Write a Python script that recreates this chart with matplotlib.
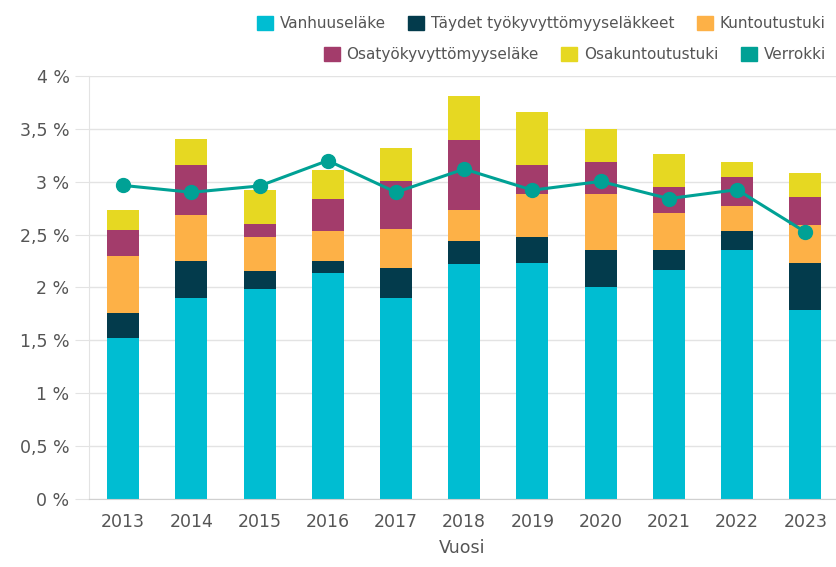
import matplotlib
matplotlib.use("Agg")
import matplotlib.pyplot as plt
import numpy as np
from matplotlib.patches import Patch
from matplotlib.ticker import FuncFormatter

years = ["2013", "2014", "2015", "2016", "2017", "2018", "2019", "2020", "2021", "2022", "2023"]

vanhuuselake = [1.525, 1.905, 1.99, 2.14, 1.905, 2.225, 2.233, 2.006, 2.167, 2.35, 1.79]
taydet_tk = [0.235, 0.345, 0.165, 0.11, 0.28, 0.215, 0.247, 0.344, 0.183, 0.18, 0.44]
kuntoutustuki = [0.54, 0.435, 0.32, 0.285, 0.365, 0.29, 0.40, 0.53, 0.35, 0.24, 0.36]
osatyokyvyttomyys = [0.24, 0.475, 0.125, 0.30, 0.46, 0.66, 0.28, 0.31, 0.25, 0.27, 0.27]
osakuntoutustuki = [0.19, 0.24, 0.325, 0.275, 0.31, 0.42, 0.497, 0.307, 0.31, 0.15, 0.22]
verrokki = [2.965, 2.90, 2.96, 3.20, 2.90, 3.12, 2.92, 3.003, 2.84, 2.925, 2.525]

series = [
    ("Vanhuuseläke", vanhuuselake, "#00bdd2"),
    ("Täydet työkyvyttömyyseläkkeet", taydet_tk, "#033b4c"),
    ("Kuntoutustuki", kuntoutustuki, "#fdb147"),
    ("Osatyökyvyttömyyseläke", osatyokyvyttomyys, "#a33c6b"),
    ("Osakuntoutustuki", osakuntoutustuki, "#e6d822"),
]
line_color = "#00a195"
grid_color = "#e3e3e3"
text_color = "#555555"

fig = plt.figure(figsize=(8.36, 5.67), dpi=100)
ax = fig.add_axes([0.1065, 0.120, 0.8935, 0.746])

x = np.arange(len(years))
bottom = np.zeros(len(years))
for label, vals, color in series:
    ax.bar(x, vals, width=0.47, bottom=bottom, color=color, zorder=2)
    bottom += np.array(vals)

ax.plot(x, verrokki, color=line_color, linewidth=2.2, marker="o", markersize=10, zorder=3)

ax.set_xlim(-0.5, 10.45)
ax.set_ylim(0, 4)
ax.set_yticks(np.arange(0, 4.01, 0.5))
ax.yaxis.set_major_formatter(FuncFormatter(lambda v, _: f"{v:g} %".replace(".", ",")))
ax.set_xticks(x)
ax.set_xticklabels(years)
ax.grid(axis="y", color=grid_color, linewidth=1, zorder=0)
for side in ["top", "right"]:
    ax.spines[side].set_visible(False)
ax.spines["left"].set_color(grid_color)
ax.spines["bottom"].set_color("#d0d0d0")
ax.tick_params(axis="y", colors=grid_color, labelcolor=text_color, labelsize=12.5, length=10, pad=4)
ax.tick_params(axis="x", length=0, labelcolor=text_color, labelsize=12.5, pad=10)
ax.set_xlabel("Vuosi", color=text_color, fontsize=12.5, labelpad=6)

# legend in two right-aligned rows, square swatches for every entry
handles = [Patch(color=c) for _, _, c in series] + [Patch(color=line_color)]
labels = [s[0] for s in series] + ["Verrokki"]
common = dict(frameon=False, handlelength=1.05, handleheight=1.05, handletextpad=0.45,
              columnspacing=1.45, fontsize=11, labelcolor=text_color, borderaxespad=0)
fig.legend(handles[:3], labels[:3], ncol=3, loc="upper right",
           bbox_to_anchor=(0.995, 0.983), **common)
fig.legend(handles[3:], labels[3:], ncol=3, loc="upper right",
           bbox_to_anchor=(0.995, 0.928), **common)

fig.savefig("out.png", dpi=100)
